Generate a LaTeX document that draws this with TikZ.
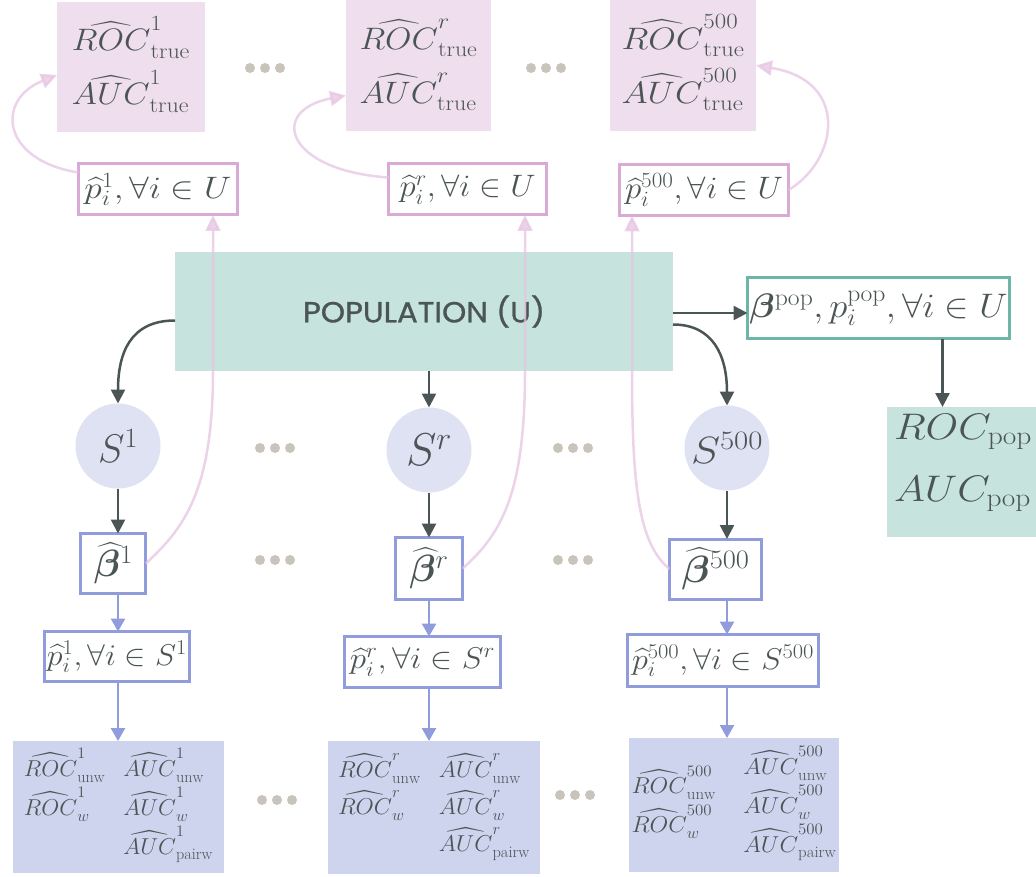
\RequirePackage{fix-cm}
\documentclass[tikz,border=0pt]{standalone}
\usepackage{amsmath,bm}
\usepackage{fontspec}
\newfontfamily\popfont[FakeBold=1]{Poppins}
\usetikzlibrary{arrows.meta,calc}

\definecolor{ink}{HTML}{4B5555}
\definecolor{pinkfill}{HTML}{EFDEEE}
\definecolor{pinkedge}{HTML}{D9AAD6}
\definecolor{pinkline}{HTML}{E6C4E2}
\definecolor{tealfill}{HTML}{C7E3DE}
\definecolor{tealedge}{HTML}{6DB5A6}
\definecolor{circfill}{HTML}{DFE2F2}
\definecolor{blueedge}{HTML}{909CDB}
\definecolor{bluefill}{HTML}{CED4EE}
\definecolor{dotcol}{HTML}{C8C4BC}

% set a label to a given width, keeping its natural height
\newcommand{\wfit}[2]{\resizebox{#1}{\height}{#2}}
\newcommand{\twoline}[2]{\begin{tabular}{@{}l@{}}#1\\ #2\end{tabular}}

\begin{document}
\begin{tikzpicture}[x=1pt,y=-1pt,
  every node/.style={text=ink, inner sep=0pt, outer sep=0pt},
  truebox/.style={rectangle, fill=pinkfill, font=\fontsize{31}{54}\selectfont},
  ubox/.style={rectangle, draw=pinkedge, line width=3pt, fill=white, font=\fontsize{31}{36}\selectfont},
  popbox/.style={rectangle, fill=tealfill, font=\popfont\fontsize{29}{34}\selectfont},
  tbox/.style={rectangle, draw=tealedge, line width=3pt, fill=white, font=\fontsize{34}{40}\selectfont},
  tres/.style={rectangle, fill=tealfill, font=\fontsize{37}{62}\selectfont},
  sample/.style={circle, fill=circfill, minimum size=85pt, font=\fontsize{40}{44}\selectfont},
  betabox/.style={rectangle, draw=blueedge, line width=3pt, fill=white, font=\fontsize{38}{42}\selectfont},
  sbox/.style={rectangle, draw=blueedge, line width=3pt, fill=white, font=\fontsize{30}{34}\selectfont},
  estbox/.style={rectangle, fill=bluefill, font=\fontsize{23}{37}\selectfont},
  darr/.style={draw=ink, line width=2.5pt, -{Triangle[length=14pt,width=14pt]}},
  barr/.style={draw=blueedge, line width=2.5pt, -{Triangle[length=13pt,width=14pt]}},
  parr/.style={draw=pinkline, opacity=0.75, line width=2.5pt,
    -{Triangle[length=16pt,width=15pt,fill=pinkline]}},
]
\useasboundingbox (0,0) rectangle (1036,877);

% ---- estimates over the whole population, per sample ----
\node[truebox, minimum width=148pt, minimum height=130pt] (t1) at (131,67)
  {\wfit{118pt}{\twoline{$\widehat{ROC}^{1}_{\mathrm{true}}$}{$\widehat{AUC}^{1}_{\mathrm{true}}$}}};
\node[truebox, minimum width=145pt, minimum height=131pt] (tr) at (418.5,65.5)
  {\wfit{118pt}{\twoline{$\widehat{ROC}^{r}_{\mathrm{true}}$}{$\widehat{AUC}^{r}_{\mathrm{true}}$}}};
\node[truebox, minimum width=146pt, minimum height=131pt] (t500) at (683,65.5)
  {\wfit{123pt}{\twoline{$\widehat{ROC}^{500}_{\mathrm{true}}$}{$\widehat{AUC}^{500}_{\mathrm{true}}$}}};

\node[ubox, minimum width=159pt, minimum height=51pt] (u1) at (158,189.5)
  {\wfit{147pt}{$\widehat{p}_i^{1}, \forall i \in U$}};
\node[ubox, minimum width=158pt, minimum height=51pt] (ur) at (467.5,189.5)
  {\wfit{136pt}{$\widehat{p}_i^{r}, \forall i \in U$}};
\node[ubox, minimum width=169pt, minimum height=51pt] (u500) at (704,190)
  {\wfit{158pt}{$\widehat{p}_i^{500}, \forall i \in U$}};

% ---- population ----
\node[popbox, minimum width=498pt, minimum height=119pt] (pop) at (424,311.5)
  {\wfit{242pt}{POPULATION (U)}};
\node[tbox, minimum width=262pt, minimum height=61pt] (bpop) at (878.5,308)
  {\wfit{258pt}{$\bm{\beta}^{\mathrm{pop}}, p_i^{\mathrm{pop}}, \forall i \in U$}};
\node[tres, minimum width=152pt, minimum height=130pt] (rocpop) at (963,472)
  {\raisebox{14pt}[\height][\depth]{\wfit{138pt}{\twoline{$ROC_{\mathrm{pop}}$}{$AUC_{\mathrm{pop}}$}}}};

% ---- samples ----
\node[sample] (s1) at (118,446) {$S^{1}$};
\node[sample, font=\fontsize{46}{50}\selectfont] (sr) at (429,450) {$S^{r}$};
\node[sample, font=\fontsize{38}{42}\selectfont] (s500) at (727,448) {\wfit{72pt}{$S^{500}$}};

\node[betabox, minimum width=65pt, minimum height=60pt] (b1) at (113.3,563.5) {$\widehat{\bm{\beta}}^{1}$};
\node[betabox, minimum width=67pt, minimum height=62pt] (br) at (429,568.5) {$\widehat{\bm{\beta}}^{r}$};
\node[betabox, minimum width=92pt, minimum height=60pt] (b500) at (715.5,569) {\wfit{68pt}{$\widehat{\bm{\beta}}^{500}$}};

\node[sbox, minimum width=145pt, minimum height=50pt] (p1) at (117,656.5)
  {\wfit{140pt}{$\widehat{p}_i^{1}, \forall i \in S^{1}$}};
\node[sbox, minimum width=156pt, minimum height=51pt] (pr) at (422.5,662)
  {\wfit{145pt}{$\widehat{p}_i^{r}, \forall i \in S^{r}$}};
\node[sbox, minimum width=191pt, minimum height=52pt] (p500) at (723,660.5)
  {\wfit{182pt}{$\widehat{p}_i^{500}, \forall i \in S^{500}$}};

\node[estbox, minimum width=211pt, minimum height=132pt] (e1) at (118.5,807)
  {\wfit{189pt}{\begin{tabular}[t]{@{}l@{}}$\widehat{ROC}^{1}_{\mathrm{unw}}$\\ $\widehat{ROC}^{1}_{w}$\end{tabular}\hspace{18pt}%
   \begin{tabular}[t]{@{}l@{}}$\widehat{AUC}^{1}_{\mathrm{unw}}$\\ $\widehat{AUC}^{1}_{w}$\\ $\widehat{AUC}^{1}_{\mathrm{pairw}}$\end{tabular}}};
\node[estbox, minimum width=212pt, minimum height=133pt] (er) at (434,807.5)
  {\wfit{192pt}{\begin{tabular}[t]{@{}l@{}}$\widehat{ROC}^{r}_{\mathrm{unw}}$\\ $\widehat{ROC}^{r}_{w}$\end{tabular}\hspace{18pt}%
   \begin{tabular}[t]{@{}l@{}}$\widehat{AUC}^{r}_{\mathrm{unw}}$\\ $\widehat{AUC}^{r}_{w}$\\ $\widehat{AUC}^{r}_{\mathrm{pairw}}$\end{tabular}}};
\node[estbox, minimum width=210pt, minimum height=134pt] (e500) at (734,805)
  {\wfit{205pt}{\begin{tabular}[c]{@{}l@{}}$\widehat{ROC}^{500}_{\mathrm{unw}}$\\ $\widehat{ROC}^{500}_{w}$\end{tabular}\hspace{26pt}%
   \begin{tabular}[c]{@{}l@{}}$\widehat{AUC}^{500}_{\mathrm{unw}}$\\ $\widehat{AUC}^{500}_{w}$\\ $\widehat{AUC}^{500}_{\mathrm{pairw}}$\end{tabular}}};

% ---- ellipses between the columns ----
\foreach \cx/\cy in {265/68, 546/68, 275/448, 573/448, 275/560, 573/560, 277/800, 575/795}
  \foreach \k in {-15,0,15}
    \fill[dotcol] (\cx+\k,\cy) circle (5pt);

% ---- population to samples ----
\draw[darr] ([yshift=-9pt]pop.west) .. controls +(-45,0) and +(0,-50) .. (s1.north);
\draw[darr] (sr.north |- pop.south) -- (sr.north);
\draw[darr] ([yshift=-13pt]pop.east) .. controls +(40,0) and +(0,-50) .. (s500.north);
\path ([yshift=-5pt]bpop.west) coordinate (bin);
\draw[darr] (pop.east |- bin) -- (bin);
\path ([xshift=64pt]bpop.south) coordinate (bout);
\draw[darr] (bout) -- (bout |- rocpop.north);

% ---- sample to fitted model ----
\foreach \n in {1,r,500}{
  \draw[darr] (s\n.south) -- (s\n.south |- b\n.north);
  \draw[barr] (s\n.south |- b\n.south) -- (s\n.south |- p\n.north);
  \draw[barr] (s\n.south |- p\n.south) -- (s\n.south |- e\n.north);
}

% ---- fitted model applied to the population ----
\path ([xshift=55pt]u1.south) coordinate (in1);
\path ([xshift=57.5pt]ur.south) coordinate (inr);
\path ([xshift=-72pt]u500.south) coordinate (in500);
\draw[parr] (b1.east) .. controls +(38,-35) and +(0,120) .. (in1 |- pop.south) -- (in1);
\draw[parr] (br.east) .. controls +(40,-35) and +(0,120) .. (inr |- pop.south) -- (inr);
\draw[parr] (b500.west) .. controls +(-30,-25) and +(0,120) .. (in500 |- pop.south) -- (in500);

\draw[parr] ([yshift=17pt]u1.west) .. controls +(-77,-12) and +(-62,25) .. ([yshift=-8pt]t1.west);
\draw[parr] ([yshift=12pt]ur.west) .. controls +(-103,-7) and +(-78,15) .. ([yshift=-30pt]tr.west);
\draw[parr] (u500.east) .. controls +(50,-30) and +(94,15) .. (t500.east);
\end{tikzpicture}
\end{document}
